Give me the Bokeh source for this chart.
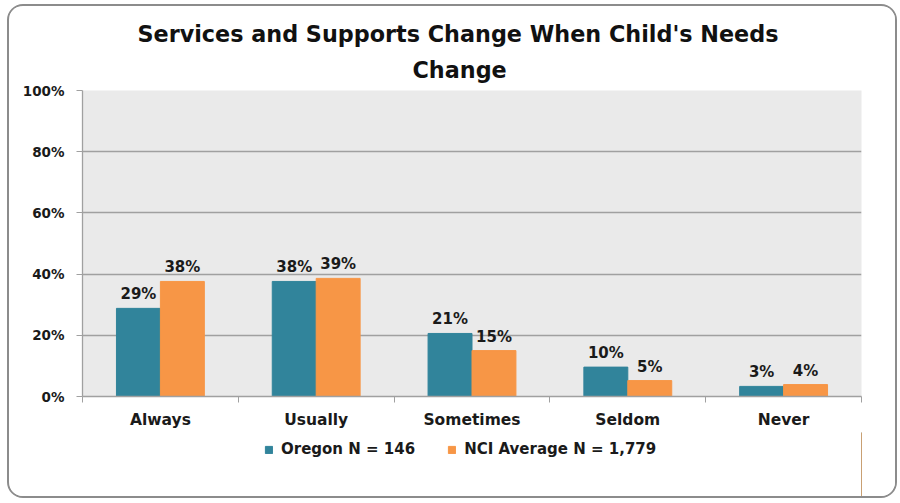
from bokeh.plotting import figure
from bokeh.layouts import column
from bokeh.models import (ColumnDataSource, FixedTicker, Range1d, Title, Legend, LegendItem)
from bokeh.core.properties import value
from bokeh.embed import file_html
from bokeh.resources import INLINE

categories = ["Always", "Usually", "Sometimes", "Seldom", "Never"]
oregon = [28.8, 37.6, 20.6, 9.6, 3.3]
nci = [37.6, 38.6, 15.0, 5.2, 3.9]
oregon_labels = ["29%", "38%", "21%", "10%", "3%"]
nci_labels = ["38%", "39%", "15%", "5%", "4%"]
y_ticks = [0, 20, 40, 60, 80, 100]
series_names = ["Oregon N = 146", "NCI Average N = 1,779"]

TEAL = "#31849B"
ORANGE = "#F79646"
FONT = "DejaVu Sans"
TXT = "#1a1a1a"
GRID = "#A0A0A0"
BW = 0.282

centers = [i + 0.5 for i in range(len(categories))]
src_o = ColumnDataSource(dict(x=[c - BW / 2 for c in centers], top=oregon, label=oregon_labels))
src_n = ColumnDataSource(dict(x=[c + BW / 2 for c in centers], top=nci, label=nci_labels))

p = figure(width=886, height=426, output_backend="svg", toolbar_location=None,
           x_range=Range1d(0, len(categories)), y_range=Range1d(0, 100),
           min_border_left=73, min_border_right=34, min_border_bottom=36, min_border_top=84)

p.border_fill_color = "#FFFFFF"
p.background_fill_color = "#EAEAEA"
p.outline_line_color = None

r1 = p.vbar(x="x", top="top", width=BW, source=src_o, color=TEAL)
r2 = p.vbar(x="x", top="top", width=BW, source=src_n, color=ORANGE)

for src in (src_o, src_n):
    p.text(x="x", y="top", text="label", source=src, text_align="center",
           text_baseline="alphabetic", y_offset=-14, text_font=value(FONT),
           text_font_style="bold", text_font_size="15px", text_color=TXT)

# y axis
p.yaxis.ticker = FixedTicker(ticks=y_ticks)
p.yaxis.major_label_overrides = {t: f"{t}%" for t in y_ticks}
p.yaxis.major_label_text_font = FONT
p.yaxis.major_label_text_font_style = "bold"
p.yaxis.major_label_text_font_size = "13.5px"
p.yaxis.major_label_text_color = TXT
p.yaxis.axis_line_color = GRID
p.yaxis.axis_line_width = 1.3
p.yaxis.major_tick_line_color = GRID
p.yaxis.major_tick_out = 6
p.yaxis.major_tick_in = 0
p.yaxis.minor_tick_line_color = None
p.yaxis.major_label_standoff = 12

# x axis
p.xaxis.ticker = FixedTicker(ticks=centers, minor_ticks=list(range(len(categories) + 1)))
p.xaxis.major_label_overrides = {c: cat for c, cat in zip(centers, categories)}
p.xaxis.major_label_text_font = FONT
p.xaxis.major_label_text_font_style = "bold"
p.xaxis.major_label_text_font_size = "15.5px"
p.xaxis.major_label_text_color = TXT
p.xaxis.axis_line_color = GRID
p.xaxis.axis_line_width = 1.3
p.xaxis.major_tick_line_color = None
p.xaxis.major_tick_out = 6
p.xaxis.minor_tick_line_color = GRID
p.xaxis.minor_tick_out = 6
p.xaxis.minor_tick_in = 0
p.xaxis.major_label_standoff = 8

p.xgrid.grid_line_color = None
p.ygrid.ticker = FixedTicker(ticks=y_ticks)
p.ygrid.grid_line_color = GRID
p.ygrid.grid_line_width = 1.3

t2 = Title(text="Change", align="left", offset=330, text_font=FONT, text_font_style="bold",
           text_font_size="22.3px", text_color="#111111", standoff=16)
t1 = Title(text="Services and Supports Change When Child's Needs", align="left", offset=55,
           text_font=FONT, text_font_style="bold", text_font_size="22.3px",
           text_color="#111111", standoff=0)
p.add_layout(t2, "above")
p.add_layout(t1, "above")

# legend strip below the chart (its frame is aligned with the chart's frame)
lg = figure(width=886, height=64, output_backend="svg", toolbar_location=None,
            x_axis_type=None, y_axis_type=None, x_range=Range1d(0, 1), y_range=Range1d(0, 1),
            min_border_left=0, min_border_right=0, min_border_top=0, min_border_bottom=0)
lg.outline_line_color = None
lg.background_fill_color = "#FFFFFF"
lg.border_fill_color = "#FFFFFF"
lg.xgrid.grid_line_color = None
lg.ygrid.grid_line_color = None
# swatch renderers: one point kept outside the visible range so only the legend shows them
e1 = lg.vbar(x=[5], top=[1], width=0.1, color=TEAL)
e2 = lg.vbar(x=[5], top=[1], width=0.1, color=ORANGE)

legend = Legend(items=[LegendItem(label=series_names[0], renderers=[e1]),
                       LegendItem(label=series_names[1], renderers=[e2])],
                orientation="horizontal", location=(182, 38),
                label_text_font=FONT, label_text_font_style="bold", label_text_font_size="15px",
                label_text_color=TXT, border_line_color=None, background_fill_color=None,
                glyph_width=9, glyph_height=9, label_height=9, spacing=32, label_standoff=8,
                padding=0, margin=0)
lg.add_layout(legend, "center")

layout = column(p, lg, spacing=0,
                styles={"border": "2px solid #8c8c8c", "border-radius": "16px",
                        "margin-left": "7px", "margin-top": "4px", "overflow": "hidden"})

open("out.html", "w").write(file_html(layout, INLINE))
